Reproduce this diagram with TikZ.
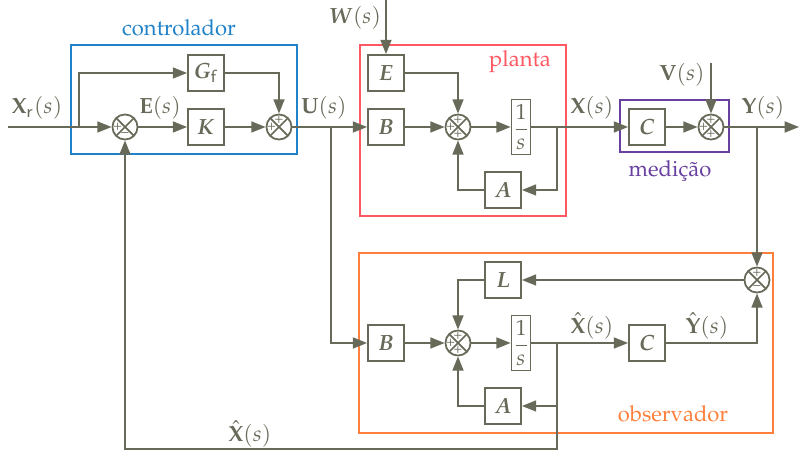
\documentclass[tikz,border=0pt]{standalone}
\usepackage[T1]{fontenc}
\usepackage{mathpazo}
\usepackage{amsmath,bm}
\usetikzlibrary{arrows.meta}
\definecolor{lin}{RGB}{103,106,88}
\definecolor{cblue}{RGB}{32,130,200}
\definecolor{cred}{RGB}{255,88,98}
\definecolor{cpurp}{RGB}{104,64,160}
\definecolor{corng}{RGB}{255,128,60}
\tikzset{blk/.style={draw,minimum size=16.4pt,inner sep=1pt}}
\tikzset{intg/.style={draw,minimum width=8.6pt,minimum height=25pt,inner sep=0pt}}
\tikzset{sumj/.style={circle,draw,minimum size=11.4pt,inner sep=0pt,path picture={\draw (path picture bounding box.north west)--(path picture bounding box.south east) (path picture bounding box.south west)--(path picture bounding box.north east);}}}
\tikzset{sgn/.style={font=\fontsize{6.5}{6.5}\selectfont,inner sep=0pt,text=lin}}
\tikzset{frm/.style={line width=.6pt}}
\newcommand{\Sg}[3]{\node[sgn] at ([shift={(#2:3.3pt)}]#1.center){#3};}

\begin{document}
\begin{tikzpicture}[x=0.4545pt,y=-0.4545pt,line width=.8pt,color=lin,>={Triangle[length=6.5pt,width=5pt]}]
\useasboundingbox (0,0) rectangle (799,451);
% frames
\draw[frm,cblue](71,45)rectangle(297,154);\node[cblue](tctrl)at(179,28){controlador};
\draw[frm,cred](360,45)rectangle(566,216);\node[cred](tplant)at(520,62){planta};
\draw[frm,cpurp](620,100)rectangle(729,152);\node[cpurp](tmed)at(670,171){medi\c{c}\~ao};
\draw[frm,corng](359,253)rectangle(773,433);\node[corng](tobs)at(673,414){observador};
% controlador
\node[sumj](s1)at(125,127){};\Sg{s1}{180}{+}\Sg{s1}{270}{\textendash}
\node[blk](Gf)at(206,73){$\bm{G}_{\mathsf{f}}$};
\node[blk](K)at(206,127){$\bm{K}$};
\node[sumj](s2)at(279,127){};\Sg{s2}{90}{+}\Sg{s2}{180}{+}
% planta
\node[blk](E)at(386,73){$\bm{E}$};
\node[blk](B1)at(386,127){$\bm{B}$};
\node[sumj](s3)at(458,127){};\Sg{s3}{90}{+}\Sg{s3}{180}{+}\Sg{s3}{270}{+}
\node[intg](I1)at(521,127){$\displaystyle\frac{1}{s}$};
\node[blk](A1)at(503,190){$\bm{A}$};
% medicao
\node[blk](C1)at(647,127){$\bm{C}$};
\node[sumj](s4)at(711,127){};\Sg{s4}{90}{+}\Sg{s4}{180}{+}\Sg{s4}{270}{+}
% observador
\node[sumj](s5)at(757,280){};\Sg{s5}{90}{+}\Sg{s5}{270}{\textendash}
\node[blk](L)at(503,280){$\bm{L}$};
\node[blk](B2)at(386,343){$\bm{B}$};
\node[sumj](s6)at(458,343){};\Sg{s6}{90}{+}\Sg{s6}{180}{+}\Sg{s6}{270}{+}
\node[intg](I2)at(521,343){$\displaystyle\frac{1}{s}$};
\node[blk](A2)at(503,406){$\bm{A}$};
\node[blk](C2)at(647,343){$\bm{C}$};
% branch points and free ends
\coordinate(in)at(8,127);\coordinate(b1)at(79,127);\coordinate(b2)at(331,127);\coordinate(w)at(386,0);
\coordinate(b3)at(557,127);\coordinate(v)at(711,63);\coordinate(b4)at(757,127);\coordinate(out)at(799,127);
\coordinate(b5)at(557,343);\coordinate(fb)at(557,449);
% connectors
\draw[->](in)--(s1);\draw[->](b1)|-(Gf);\draw[->](s1)--(K);\draw[->](K)--(s2);\draw[->](Gf)-|(s2);
\draw[->](s2)--(B1);\draw[->](b2)|-(B2);\draw[->](w)--(E);
\draw[->](B1)--(s3);\draw[->](E)-|(s3);\draw[->](s3)--(I1);\draw[->](I1)--(C1);
\draw[->](b3)|-(A1);\draw[->](A1)-|(s3);
\draw[->](C1)--(s4);\draw[->](v)--(s4);\draw[->](s4)--(out);\draw[->](b4)--(s5);
\draw[->](s5)--(L);\draw[->](L)-|(s6);\draw[->](B2)--(s6);\draw[->](s6)--(I2);\draw[->](I2)--(C2);
\draw[->](b5)|-(A2);\draw[->](A2)-|(s6);\draw[->](C2)-|(s5);\draw[->](b5)--(fb)-|(s1);
% signals
\node(lxr)at(37,108){$\mathbf{X}_{\mathsf{r}}(s)$};\node(le)at(160,108){$\mathbf{E}(s)$};
\node(lu)at(324,108){$\mathbf{U}(s)$};\node(lw)at(355,18){$\bm{W}(s)$};
\node(lx)at(592,108){$\mathbf{X}(s)$};\node(lv)at(682,75){$\mathbf{V}(s)$};\node(ly)at(763,108){$\mathbf{Y}(s)$};
\node(lxh)at(592,326){$\hat{\mathbf{X}}(s)$};\node(lyh)at(707,326){$\hat{\mathbf{Y}}(s)$};
\node(lxf)at(250,434){$\hat{\mathbf{X}}(s)$};
\end{tikzpicture}
\end{document}
